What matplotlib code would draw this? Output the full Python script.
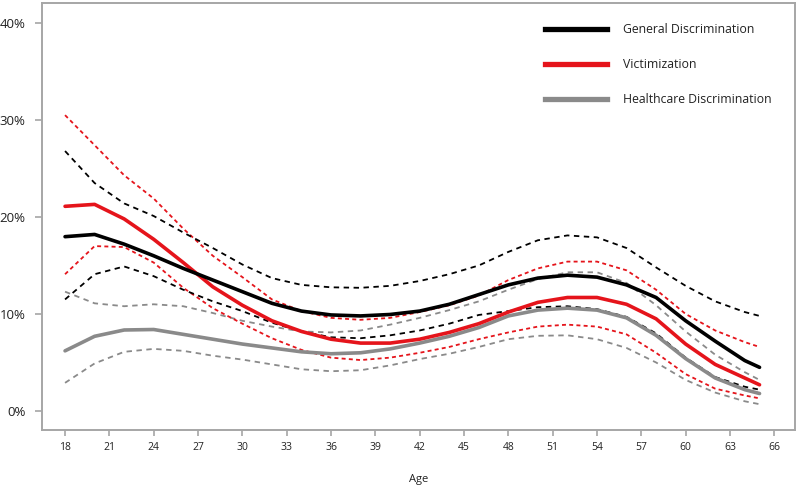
import matplotlib
matplotlib.use("Agg")
import matplotlib.pyplot as plt
from matplotlib.lines import Line2D

ages = [18, 20, 22, 24, 26, 28, 30, 32, 34, 36, 38, 40, 42, 44, 46, 48, 50, 52, 54, 56, 58, 60, 62, 64, 65]

general_mean = [17.97, 18.2, 17.2, 16.0, 14.7, 13.5, 12.3, 11.1, 10.3, 9.9, 9.8, 9.95, 10.3, 11.0, 12.0, 13.0, 13.7, 14.0, 13.8, 13.0, 11.7, 9.3, 7.2, 5.2, 4.5]
general_upper = [26.8, 23.5, 21.4, 20.1, 18.4, 16.8, 15.1, 13.7, 13.0, 12.75, 12.7, 12.9, 13.4, 14.1, 15.0, 16.4, 17.6, 18.1, 17.9, 16.8, 14.8, 12.9, 11.3, 10.2, 9.8]
general_lower = [11.5, 14.1, 14.9, 13.9, 12.5, 11.3, 10.3, 9.1, 8.2, 7.6, 7.5, 7.8, 8.3, 9.0, 9.9, 10.3, 10.7, 10.8, 10.5, 9.7, 8.0, 5.5, 3.5, 2.5, 2.2]

victim_mean = [21.1, 21.3, 19.8, 17.7, 15.3, 12.8, 10.9, 9.3, 8.2, 7.4, 7.0, 7.0, 7.4, 8.1, 9.0, 10.2, 11.2, 11.7, 11.7, 11.0, 9.5, 6.9, 4.8, 3.4, 2.7]
victim_upper = [30.5, 27.4, 24.3, 21.9, 18.8, 16.0, 13.8, 11.5, 10.3, 9.6, 9.4, 9.6, 10.2, 10.9, 11.9, 13.5, 14.7, 15.4, 15.4, 14.5, 12.5, 10.0, 8.3, 7.1, 6.6]
victim_lower = [14.1, 17.0, 16.9, 15.3, 12.7, 10.6, 9.0, 7.5, 6.3, 5.5, 5.25, 5.5, 6.0, 6.6, 7.4, 8.1, 8.7, 8.9, 8.7, 7.9, 6.0, 3.8, 2.3, 1.6, 1.3]

health_mean = [6.2, 7.7, 8.35, 8.4, 7.9, 7.4, 6.9, 6.5, 6.1, 5.9, 6.0, 6.4, 7.0, 7.7, 8.6, 9.8, 10.4, 10.6, 10.4, 9.6, 7.8, 5.4, 3.4, 2.2, 1.8]
health_upper = [12.3, 11.1, 10.8, 11.0, 10.8, 10.1, 9.3, 8.7, 8.2, 8.1, 8.3, 8.9, 9.6, 10.4, 11.3, 12.5, 13.6, 14.3, 14.3, 13.2, 10.9, 8.2, 5.8, 4.0, 3.2]
health_lower = [2.9, 4.9, 6.1, 6.4, 6.2, 5.7, 5.3, 4.8, 4.3, 4.1, 4.2, 4.7, 5.35, 5.9, 6.6, 7.4, 7.75, 7.8, 7.4, 6.5, 5.0, 3.2, 1.9, 1.0, 0.7]

x_ticks = [18, 21, 24, 27, 30, 33, 36, 39, 42, 45, 48, 51, 54, 57, 60, 63, 66]
y_ticks = [0, 10, 20, 30, 40]
y_labels = ["0%", "10%", "20%", "30%", "40%"]
labels = ["General Discrimination", "Victimization", "Healthcare Discrimination"]

BLACK = "#000000"
RED = "#e5141b"
GRAY = "#8a8a8a"
SPINE = "#a6a6a6"

plt.rcParams["font.family"] = ["Open Sans", "DejaVu Sans"]

fig = plt.figure(figsize=(8.0, 4.87), dpi=100)
ax = fig.add_axes([42 / 800, 1 - 430 / 487, (795 - 42) / 800, (430 - 3) / 487])

dash_lw = 1.3
ax.plot(ages, health_upper, color=GRAY, lw=dash_lw, ls=(0, (3, 2.5)))
ax.plot(ages, health_lower, color=GRAY, lw=dash_lw, ls=(0, (3, 2.5)))
ax.plot(ages, victim_upper, color=RED, lw=dash_lw, ls=(0, (2.2, 1.8)))
ax.plot(ages, victim_lower, color=RED, lw=dash_lw, ls=(0, (2.2, 1.8)))
ax.plot(ages, general_upper, color=BLACK, lw=dash_lw, ls=(0, (3, 2.5)))
ax.plot(ages, general_lower, color=BLACK, lw=dash_lw, ls=(0, (3, 2.5)))

main_lw = 2.6
ax.plot(ages, health_mean, color=GRAY, lw=main_lw, solid_capstyle="round", solid_joinstyle="round")
ax.plot(ages, victim_mean, color=RED, lw=main_lw, solid_capstyle="round", solid_joinstyle="round")
ax.plot(ages, general_mean, color=BLACK, lw=main_lw, solid_capstyle="round", solid_joinstyle="round")

ax.set_xlim(16.44, 67.4)
ax.set_ylim(-1.96, 42.06)
ax.set_xticks(x_ticks)
ax.set_xticklabels([str(t) for t in x_ticks])
ax.set_yticks(y_ticks)
ax.set_yticklabels(y_labels)

for s in ax.spines.values():
    s.set_color(SPINE)
    s.set_linewidth(1.4)
ax.tick_params(axis="y", direction="out", length=5, width=1.2, color=SPINE, pad=7,
               labelsize=9.5, labelcolor="#222222")
ax.tick_params(axis="x", direction="out", length=4, width=1.2, color=SPINE, pad=5,
               labelsize=7.5, labelcolor="#222222")

ax.set_xlabel("Age", fontsize=8, color="#222222", labelpad=15)

handles = [Line2D([], [], color=c, lw=3.8) for c in (BLACK, RED, GRAY)]
fs = 8.8
leg = ax.legend(handles, labels, loc="upper left", frameon=False, fontsize=fs,
                bbox_to_anchor=(545 / 800, 1 - 23 / 487), bbox_transform=fig.transFigure,
                borderpad=0, borderaxespad=0, handlelength=62 / (fs * 1.389),
                handletextpad=16 / (fs * 1.389), labelspacing=1.8)
for t in leg.get_texts():
    t.set_color("#222222")

fig.savefig("out.png", dpi=100)
